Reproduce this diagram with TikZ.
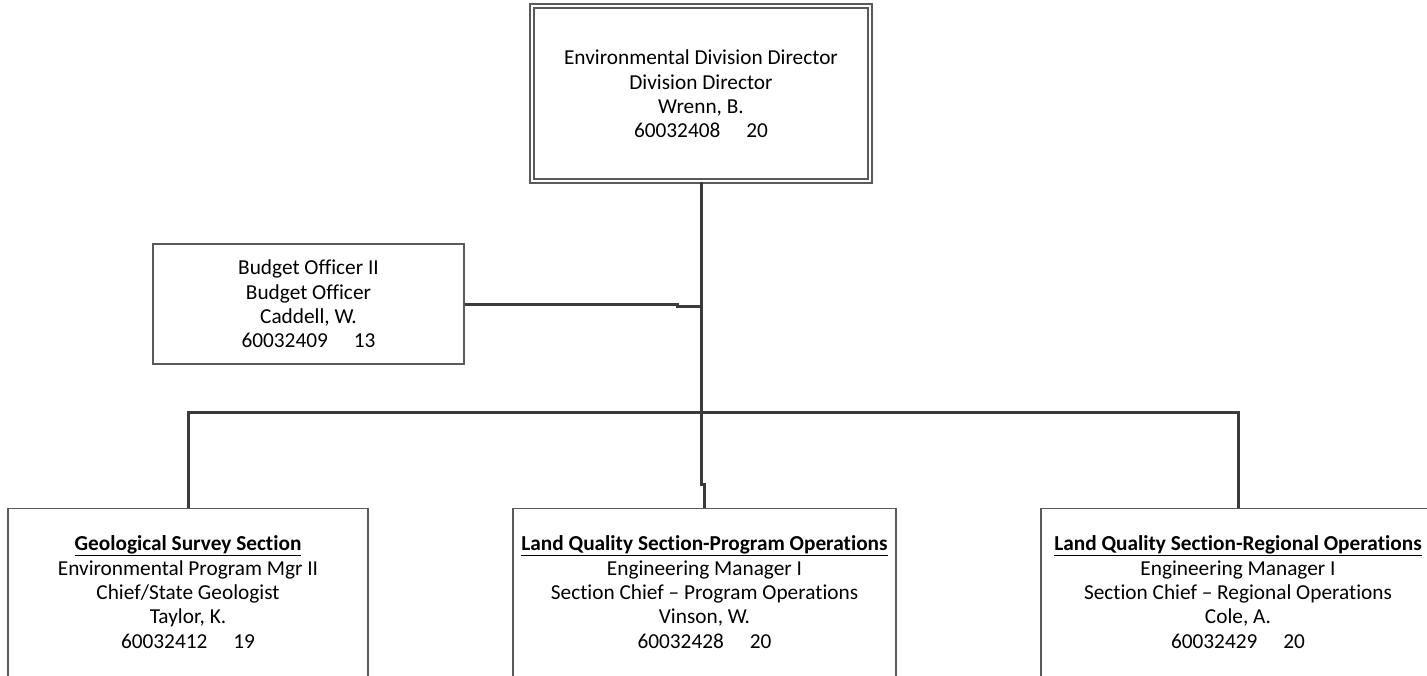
\documentclass[tikz,border=0pt]{standalone}
\usepackage{fontspec}
\setmainfont[Ligatures={NoCommon}]{Carlito}
\definecolor{conncol}{HTML}{3A3A3A}
\definecolor{boxcol}{HTML}{5A5A5A}
\newcommand{\numgap}{\hspace{26pt}}
\begin{document}
\begin{tikzpicture}[x=1pt,y=-1pt,
  every node/.style={font=\fontsize{21.3}{24.4}\selectfont, text=black},
  orgbox/.style={draw=boxcol, line width=1.2pt, inner sep=0pt, minimum width=#1},
  txt/.style={align=center, inner sep=0pt},
  conn/.style={draw=conncol, line width=3pt, line cap=rect}]
\useasboundingbox (0,0) rectangle (1427,675);
\clip (0,0) rectangle (1427,675);

% top box (double border)
\node[draw=boxcol, line width=1.2pt, double=white, double distance=2.8pt,
      minimum width=338pt, minimum height=175pt, inner sep=0pt] (top) at (701,93.5) {};
\node[txt] (toptxt) at (701,94) {Environmental Division Director\\Division Director\\Wrenn, B.\\60032408\numgap 20};

% budget box
\node[orgbox=311pt, minimum height=120pt] (bud) at (308.5,304) {};
\node[txt] (budtxt) at (308.5,304) {Budget Officer II\\Budget Officer\\Caddell, W.\\60032409\numgap 13};

% bottom boxes
\node[orgbox=360pt, minimum height=220pt, anchor=north] (geo) at (188,508) {};
\node[txt] (geotxt) at (188,592) {\textbf{\underline{Geological Survey Section}}\\Environmental Program Mgr II\\Chief/State Geologist\\Taylor, K.\\60032412\numgap 19};

\node[orgbox=383pt, minimum height=220pt, anchor=north] (mid) at (704.5,508) {};
\node[txt] (midtxt) at (704.5,592) {\textbf{\underline{Land Quality Section-Program Operations}}\\Engineering Manager I\\Section Chief -- Program Operations\\Vinson, W.\\60032428\numgap 20};

\node[orgbox=394pt, minimum height=220pt, anchor=north] (reg) at (1238,508) {};
\node[txt] (regtxt) at (1238,592) {\textbf{\underline{Land Quality Section-Regional Operations}}\\Engineering Manager I\\Section Chief -- Regional Operations\\Cole, A.\\60032429\numgap 20};

% junction coordinates
\coordinate (jb) at (701,306);
\coordinate (jbs) at (677,306);
\coordinate (jbt) at (677,304);
\coordinate (jm) at (701,484);
\coordinate (jm2) at (704,484);
\coordinate (barL) at (188,412);
\coordinate (barR) at (1238,412);

% connectors
\draw[conn, line cap=butt] (top.south) -- (jm) -- (jm2) -- (mid.north -| jm2);
\draw[conn, line cap=butt] (bud.east) -- (jbt) -- (jbs) -- (jb);
\draw[conn] (barL) -- (barR);
\draw[conn, line cap=butt] (barL) -- (geo.north);
\draw[conn, line cap=butt] (barR) -- (reg.north);
\end{tikzpicture}
\end{document}
